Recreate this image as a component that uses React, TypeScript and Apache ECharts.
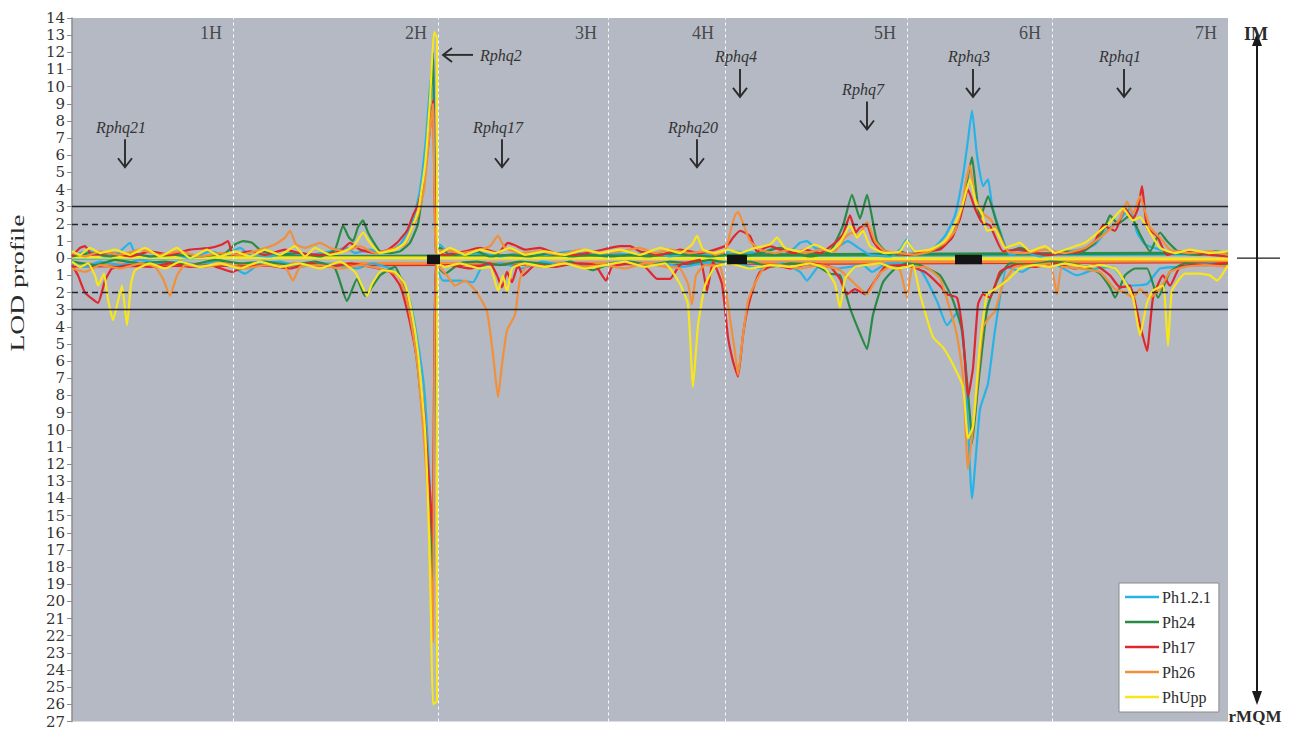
import React, { useEffect, useRef } from 'react';
import * as echarts from 'echarts';

type Pt = [number, number];

// Genome layout: cumulative map position of each chromosome end
const chromosomes = ['1H', '2H', '3H', '4H', '5H', '6H', '7H'];
const chromosomeEnds = [161, 366, 536, 653, 835, 980, 1156];

// LOD axis (upper half = IM, lower half = rMQM drawn downwards)
const lodMin = -27;
const lodMax = 14;
const thresholdSolid = [3, -3];
const thresholdDashed = [2, -2];

// Centromere blocks
const centromereStarts = [355, 655, 883];
const centromereEnds = [368, 675, 910];
const centromereTop = 0.2;
const centromereBottom = -0.35;

// QTL annotations
const qtlNames = ['Rphq21', 'Rphq2', 'Rphq17', 'Rphq20', 'Rphq4', 'Rphq7', 'Rphq3', 'Rphq1'];
const qtlPositions = [53, 371, 430, 625, 668, 795, 901, 1052];
const qtlTipLod = [5.3, 11.85, 5.3, 5.3, 9.4, 7.5, 9.4, 9.4];
const qtlPointsLeft = [0, 1, 0, 0, 0, 0, 0, 0];

const seriesNames = ['Ph1.2.1', 'Ph24', 'Ph17', 'Ph26', 'PhUpp'];
const seriesColors = ['#27b3e6', '#2a8b45', '#e2262d', '#f2903a', '#f7e61c'];

// Ph1.2.1
const ph121Im: Pt[] = [
  [0, 0.2], [18, 0.4], [33, 0.1], [46, 0.3], [58, 0.9], [63, 0.3], [78, 0.1], [98, 0.3], [118, 0.0], [138, 0.4],
  [153, 0.2], [168, 0.6], [178, 0.2], [198, 0.1], [218, 0.3], [238, 0.2], [258, 0.4], [275, 0.6], [283, 0.3], [298, 0.5],
  [313, 0.3], [328, 0.8], [340, 2.0], [348, 4.0], [354, 7.0], [358, 10.0], [361, 11.3], [364, 0.3], [368, 0.8], [373, 0.5],
  [388, 0.2], [408, 0.3], [428, 0.1], [448, 0.3], [473, 0.2], [498, 0.4], [518, 0.2], [538, 0.3], [558, 0.2], [578, 0.3],
  [598, 0.1], [618, 0.3], [638, 0.2], [658, 0.4], [688, 0.3], [703, 0.6], [718, 0.4], [728, 0.9], [735, 1.0], [743, 0.6],
  [758, 0.4], [776, 1.0], [784, 0.7], [798, 0.2], [818, 0.1], [828, 0.5], [835, 1.1], [843, 0.3], [858, 0.4], [873, 1.3],
  [883, 2.5], [891, 4.8], [896, 6.9], [900, 8.6], [905, 6.0], [911, 4.2], [916, 4.6], [920, 3.1], [928, 1.6], [938, 0.2],
  [953, 0.4], [968, 0.1], [988, 0.3], [1008, 0.5], [1023, 0.8], [1033, 1.5], [1043, 2.0], [1053, 2.6], [1058, 2.9], [1065, 1.5],
  [1073, 0.8], [1088, 0.5], [1108, 0.3], [1128, 0.2], [1156, 0.3],
];
const ph121Mqm: Pt[] = [
  [0, -0.3], [13, -0.5], [28, -0.2], [48, -0.4], [68, -0.1], [88, -0.3], [108, -0.2], [128, -0.4], [148, -0.1], [173, -0.9],
  [188, -0.3], [208, -0.2], [228, -0.5], [248, -0.3], [268, -0.4], [285, -0.6], [300, -0.3], [318, -0.6], [330, -1.2], [338, -2.5],
  [345, -4.6], [352, -7.5], [356, -11], [359, -15], [361, -18], [364, -0.5], [371, -1.3], [388, -1.3], [401, -1.4], [410, -0.5],
  [430, -0.3], [450, -0.6], [470, -0.2], [490, -0.4], [510, -0.3], [530, -0.5], [550, -0.2], [570, -0.4], [590, -0.3], [610, -0.5],
  [630, -0.3], [650, -0.2], [670, -0.4], [690, -0.6], [710, -0.3], [728, -0.8], [735, -1.3], [748, -0.4], [765, -0.6], [791, -0.4],
  [800, -0.8], [815, -0.3], [835, -0.3], [850, -0.8], [865, -2.5], [875, -3.9], [886, -3.1], [893, -6], [900, -14], [908, -8.8],
  [916, -7.3], [923, -4.2], [935, -0.5], [950, -0.8], [965, -0.3], [985, -0.4], [1005, -1.0], [1025, -0.6], [1040, -0.5], [1058, -1.6],
  [1075, -1.5], [1088, -0.6], [1105, -0.5], [1120, -0.4], [1140, -0.3], [1156, -0.4],
];

// Ph24
const ph24Im: Pt[] = [
  [0, 0.1], [18, 0.3], [38, 0.1], [58, 0.3], [78, 0.1], [103, 0.2], [128, 0.1], [153, 0.3], [163, 0.8], [171, 1.0],
  [180, 0.9], [190, 0.4], [208, 0.2], [228, 0.3], [248, 0.1], [263, 0.5], [271, 1.9], [277, 1.2], [281, 1.0], [286, 1.8],
  [291, 2.2], [296, 1.5], [301, 1.0], [308, 0.4], [318, 0.3], [328, 0.4], [338, 0.9], [346, 2.0], [353, 5.0], [358, 9.0],
  [361, 12.0], [364, 0.5], [368, 0.6], [378, 0.2], [398, 0.3], [405, 0.4], [418, 0.1], [438, 0.2], [458, 0.1], [478, 0.3],
  [498, 0.1], [518, 0.2], [538, 0.1], [558, 0.2], [578, 0.1], [598, 0.3], [618, 0.2], [638, 0.1], [653, 0.2], [668, 0.1],
  [688, 0.3], [708, 0.6], [723, 0.3], [738, 0.1], [758, 0.4], [771, 1.9], [780, 3.7], [788, 2.3], [795, 3.7], [805, 1.0],
  [818, 0.2], [828, 0.4], [838, 0.2], [853, 0.3], [868, 0.6], [880, 1.2], [891, 3.1], [896, 4.8], [900, 5.9], [904, 4.0],
  [908, 2.3], [916, 3.6], [925, 2.0], [936, 0.4], [948, 0.6], [963, 0.3], [978, 0.2], [993, 0.4], [1008, 0.3], [1023, 0.9],
  [1033, 1.8], [1038, 2.5], [1046, 2.0], [1058, 2.5], [1068, 1.4], [1078, 0.4], [1088, 1.5], [1095, 1.0], [1108, 0.3], [1128, 0.2],
  [1143, 0.4], [1156, 0.3],
];
const ph24Mqm: Pt[] = [
  [0, -0.2], [23, -0.4], [43, -0.1], [68, -0.3], [93, -0.2], [118, -0.4], [143, -0.1], [168, -0.3], [193, -0.2], [218, -0.4],
  [243, -0.2], [263, -0.6], [275, -2.5], [285, -1.2], [293, -2.2], [308, -1.0], [323, -0.5], [333, -2.0], [340, -4.0], [346, -6.5],
  [352, -10], [357, -14], [361, -19.1], [364, -0.4], [373, -0.9], [388, -0.3], [405, -0.2], [428, -0.4], [448, -0.2], [468, -0.3],
  [483, -0.4], [498, -0.2], [521, -0.7], [538, -0.3], [558, -0.2], [578, -0.4], [598, -0.2], [618, -0.3], [638, -0.1], [658, -0.3],
  [678, -0.2], [698, -0.5], [718, -0.3], [743, -0.4], [758, -0.9], [768, -1.0], [778, -2.9], [786, -4.1], [795, -5.3], [801, -3.3],
  [811, -1.4], [823, -0.6], [835, -0.3], [848, -0.4], [868, -1.0], [880, -2.3], [890, -4.2], [898, -9.2], [900, -10.8], [906, -7.5],
  [915, -3.0], [921, -1.9], [928, -1.0], [938, -0.3], [958, -0.4], [978, -0.2], [998, -0.3], [1018, -0.6], [1028, -0.9], [1038, -1.7],
  [1043, -2.3], [1053, -1.0], [1063, -0.6], [1075, -0.6], [1086, -2.3], [1098, -0.8], [1113, -0.3], [1133, -0.4], [1156, -0.3],
];

// Ph17
const ph17Im: Pt[] = [
  [0, 0.1], [8, 0.6], [13, 0.7], [20, 0.2], [38, 0.3], [58, 0.1], [78, 0.4], [98, 0.2], [118, 0.5], [138, 0.6],
  [150, 0.8], [156, 1.0], [161, 0.2], [178, 0.4], [193, 0.2], [213, 0.5], [228, 0.3], [248, 0.2], [268, 0.4], [278, 0.9],
  [288, 0.5], [303, 0.3], [316, 0.5], [325, 0.9], [335, 1.6], [341, 2.5], [346, 3.1], [352, 4.5], [357, 7.0], [361, 9.2],
  [364, 0.4], [373, 0.2], [393, 0.4], [408, 0.6], [426, 0.3], [436, 0.9], [443, 0.75], [453, 0.5], [468, 0.6], [483, 0.3],
  [503, 0.2], [523, 0.4], [538, 0.6], [548, 0.7], [558, 0.7], [568, 0.4], [588, 0.2], [608, 0.5], [628, 0.3], [643, 0.5],
  [656, 0.8], [661, 1.2], [668, 1.6], [678, 1.3], [685, 0.4], [698, 0.7], [708, 0.5], [723, 0.3], [733, 0.5], [748, 0.3],
  [763, 0.9], [771, 1.4], [778, 2.5], [784, 1.5], [788, 1.8], [795, 1.9], [801, 1.0], [808, 0.5], [823, 0.3], [838, 0.2],
  [853, 0.4], [868, 0.5], [880, 1.2], [888, 2.3], [896, 4.0], [903, 2.9], [910, 2.1], [918, 1.9], [931, 0.4], [948, 0.5],
  [963, 0.3], [978, 0.2], [993, 0.3], [1008, 0.4], [1023, 1.0], [1031, 1.9], [1043, 1.6], [1053, 2.9], [1061, 2.3], [1066, 2.9],
  [1070, 4.2], [1075, 1.8], [1085, 1.3], [1095, 0.2], [1108, 0.4], [1123, 0.3], [1138, 0.2], [1156, 0.1],
];
const ph17Mqm: Pt[] = [
  [0, -0.4], [6, -1.0], [13, -2.0], [26, -2.6], [33, -1.3], [40, -0.6], [58, -0.4], [78, -0.5], [98, -0.3], [118, -0.5],
  [138, -0.4], [160, -0.8], [173, -0.5], [193, -0.4], [218, -0.6], [238, -0.3], [258, -0.5], [278, -0.3], [298, -0.5], [318, -0.8],
  [328, -1.6], [335, -3.0], [341, -4.6], [346, -6.2], [352, -9.0], [356, -12], [359, -14.5], [361, -16.6], [364, -0.5], [378, -0.4],
  [398, -0.6], [418, -0.3], [425, -1.0], [430, -1.7], [435, -0.8], [440, -1.4], [446, -0.4], [451, -1.0], [463, -0.4], [483, -0.5],
  [503, -0.3], [523, -0.4], [534, -1.3], [540, -0.5], [558, -0.3], [573, -0.5], [585, -1.2], [598, -1.2], [608, -0.4], [628, -0.1],
  [635, -1.9], [641, -0.2], [650, -1.5], [656, -4.6], [661, -6.0], [666, -6.9], [671, -4.5], [675, -3.1], [681, -1.8], [688, -0.8],
  [703, -0.4], [718, -0.6], [738, -0.3], [758, -0.5], [768, -1.2], [775, -2.1], [783, -1.8], [793, -2.1], [803, -1.3], [813, -0.5],
  [833, -0.4], [853, -0.8], [868, -1.6], [875, -2.1], [885, -2.3], [891, -4.5], [896, -8.1], [901, -6.4], [906, -2.7], [911, -2.1],
  [918, -2.3], [928, -0.8], [943, -0.4], [963, -0.5], [983, -0.3], [1003, -0.6], [1023, -0.4], [1038, -1.0], [1048, -1.7], [1058, -1.6],
  [1068, -3.9], [1075, -5.4], [1081, -2.3], [1091, -1.0], [1098, -1.6], [1108, -0.5], [1128, -0.4], [1156, -0.3],
];

// Ph26
const ph26Im: Pt[] = [
  [0, 0.3], [13, 0.1], [28, 0.4], [48, 0.2], [68, 0.5], [88, 0.2], [108, 0.4], [128, 0.1], [148, 0.3], [168, 0.2],
  [188, 0.5], [203, 0.8], [213, 1.2], [218, 1.6], [224, 0.8], [233, 0.6], [248, 0.9], [258, 0.6], [273, 0.4], [288, 0.7],
  [303, 0.3], [318, 0.5], [333, 0.8], [340, 1.8], [346, 2.5], [352, 4.0], [357, 7.0], [361, 9.0], [364, 0.3], [373, 0.5],
  [388, 0.3], [408, 0.5], [418, 0.7], [426, 1.3], [433, 0.6], [448, 0.3], [468, 0.4], [488, 0.2], [508, 0.5], [528, 0.3],
  [548, 0.4], [568, 0.6], [583, 0.3], [598, 0.5], [618, 0.3], [633, 0.4], [643, 0.2], [653, 0.4], [659, 1.7], [663, 2.5],
  [666, 2.7], [670, 2.2], [678, 1.0], [688, 0.5], [703, 0.3], [718, 0.5], [733, 0.3], [748, 0.5], [763, 0.4], [773, 1.2],
  [780, 1.5], [786, 1.3], [795, 2.1], [803, 1.0], [813, 0.4], [828, 0.3], [843, 0.2], [858, 0.4], [873, 0.9], [883, 1.6],
  [890, 3.0], [894, 4.5], [898, 5.4], [903, 3.5], [911, 2.6], [918, 2.3], [926, 1.5], [936, 0.4], [953, 0.3], [973, 0.5],
  [993, 0.3], [1013, 0.6], [1028, 1.2], [1040, 1.8], [1048, 2.3], [1055, 3.3], [1061, 2.6], [1068, 3.6], [1078, 1.8], [1088, 1.2],
  [1098, 0.5], [1118, 0.3], [1138, 0.4], [1156, 0.2],
];
const ph26Mqm: Pt[] = [
  [0, -0.6], [13, -0.8], [28, -0.4], [48, -0.6], [68, -0.3], [83, -0.5], [91, -1.2], [98, -2.2], [105, -1.0], [113, -0.4],
  [133, -0.5], [153, -0.3], [173, -0.6], [193, -0.4], [213, -0.5], [221, -1.3], [228, -0.5], [248, -0.4], [268, -0.6], [288, -0.4],
  [308, -0.6], [326, -1.0], [333, -2.0], [340, -4.0], [346, -6.5], [352, -10.5], [356, -14], [359, -18.5], [361, -22.4], [364, -0.3],
  [375, -1.0], [383, -1.6], [393, -1.3], [405, -2.0], [415, -3.1], [421, -5.6], [426, -8.1], [430, -6.2], [435, -4.2], [443, -3.3],
  [448, -1.2], [456, -0.4], [473, -0.5], [493, -0.3], [513, -0.5], [533, -0.4], [553, -0.6], [573, -0.3], [593, -0.5], [608, -0.6],
  [616, -1.5], [620, -2.7], [624, -1.0], [633, -0.4], [648, -0.5], [654, -2.0], [658, -3.5], [663, -5.5], [666, -6.8], [671, -4.5],
  [676, -2.5], [681, -1.7], [693, -0.5], [708, -0.4], [728, -0.6], [748, -0.4], [768, -0.7], [783, -1.5], [795, -2.1], [806, -1.0],
  [818, -0.5], [828, -0.7], [835, -2.3], [840, -0.6], [853, -0.5], [868, -1.2], [878, -3.0], [885, -4.5], [891, -6.9], [896, -12.3],
  [903, -8.8], [911, -4.0], [918, -3.4], [923, -3.1], [931, -1.5], [943, -0.5], [963, -0.4], [978, -0.3], [985, -2.1], [990, -0.5],
  [1008, -0.6], [1028, -0.8], [1043, -1.8], [1053, -2.0], [1061, -2.3], [1068, -1.8], [1078, -2.3], [1088, -1.8], [1098, -0.8], [1113, -0.5],
  [1133, -0.4], [1156, -0.5],
];

// PhUpp
const phUppIm: Pt[] = [
  [0, 0.4], [8, 0.2], [18, 0.6], [28, 0.3], [43, 0.5], [58, 0.2], [73, 0.6], [88, 0.1], [105, 0.6], [118, 0.0],
  [135, 0.5], [148, 0.1], [163, 0.4], [178, 0.1], [193, 0.5], [208, 0.2], [223, 0.7], [233, 0.1], [243, 0.6], [258, 0.2],
  [273, 0.4], [283, 0.8], [291, 1.5], [298, 0.9], [308, 0.3], [323, 0.5], [333, 0.9], [340, 1.8], [346, 2.7], [353, 5.4],
  [358, 9.2], [362, 13.2], [365, 12.8], [365.5, 0.3], [368, 0.3], [378, 0.6], [393, 0.2], [408, 0.5], [423, 0.3], [438, 0.6],
  [453, 0.2], [473, 0.4], [493, 0.2], [513, 0.5], [528, 0.3], [548, 0.5], [568, 0.2], [588, 0.6], [608, 0.3], [620, 0.8],
  [625, 1.3], [631, 0.5], [643, 0.3], [656, 0.5], [668, 0.3], [683, 0.6], [698, 0.8], [705, 1.2], [713, 0.6], [728, 0.4],
  [743, 0.8], [758, 0.4], [768, 0.9], [778, 1.9], [785, 1.2], [791, 1.6], [798, 0.7], [813, 0.3], [828, 0.4], [835, 1.0],
  [843, 0.4], [858, 0.5], [873, 1.0], [883, 2.0], [890, 3.0], [898, 4.6], [904, 3.2], [910, 2.6], [915, 1.6], [923, 1.7],
  [933, 0.6], [948, 0.9], [958, 0.4], [973, 0.7], [983, 0.3], [998, 0.6], [1013, 0.9], [1028, 1.6], [1038, 2.1], [1051, 2.9],
  [1061, 2.2], [1068, 2.4], [1078, 1.5], [1088, 0.6], [1103, 0.3], [1118, 0.5], [1138, 0.3], [1156, 0.4],
];
const phUppMqm: Pt[] = [
  [0, -0.2], [8, -0.5], [16, -0.3], [23, -1.0], [26, -1.6], [32, -0.9], [36, -2.4], [41, -3.6], [46, -2.5], [50, -1.6],
  [55, -3.9], [59, -1.5], [63, -0.7], [78, -0.3], [93, -0.6], [108, -0.2], [128, -0.5], [148, -0.3], [168, -0.6], [188, -0.2],
  [208, -0.5], [228, -0.3], [248, -0.6], [268, -0.2], [283, -0.8], [290, -1.6], [295, -2.2], [300, -1.5], [310, -0.7], [323, -0.8],
  [333, -1.5], [340, -3.2], [346, -5.5], [353, -10], [357, -16], [359, -21], [361, -26], [365, -25.8], [365.5, -0.3], [373, -0.5],
  [388, -0.3], [408, -0.6], [418, -0.5], [426, -1.9], [431, -1.0], [435, -2.0], [440, -0.6], [453, -0.3], [473, -0.5], [493, -0.3],
  [513, -0.6], [533, -0.4], [553, -0.2], [573, -0.5], [593, -0.3], [608, -1.5], [616, -2.7], [621, -7.5], [626, -3.9], [633, -1.6],
  [643, -0.5], [658, -0.3], [678, -0.6], [698, -0.4], [718, -0.5], [738, -0.3], [753, -0.6], [763, -1.5], [768, -2.9], [773, -1.2],
  [783, -0.5], [793, -0.4], [808, -0.3], [823, -0.6], [835, -0.5], [841, -0.4], [848, -2.1], [861, -4.6], [871, -5.2], [881, -6.2],
  [891, -7.5], [896, -10.5], [901, -9.8], [908, -5.0], [915, -2.1], [923, -1.8], [935, -1.3], [948, -0.6], [963, -0.4], [978, -0.5],
  [993, -0.3], [1013, -0.5], [1028, -0.4], [1043, -0.6], [1051, -1.2], [1061, -2.3], [1068, -4.5], [1075, -2.6], [1081, -1.9], [1091, -1.6],
  [1096, -5.1], [1100, -1.9], [1113, -0.9], [1128, -0.9], [1138, -1.0], [1145, -1.3], [1156, -0.4],
];

const imTraces = [ph121Im, ph24Im, ph17Im, ph26Im, phUppIm];
const mqmTraces = [ph121Mqm, ph24Mqm, ph17Mqm, ph26Mqm, phUppMqm];

// Flat reference profiles along the genome
const baselineStart = [0.0, 0.05, -0.45, -0.35, 0.05];
const baselineEnd = [0.25, 0.3, -0.2, -0.15, -0.05];

const SERIF = '"Liberation Serif", "Times New Roman", serif';
const INK = '#2b2b2b';

export default function App() {
  const ref = useRef<HTMLDivElement>(null);

  useEffect(() => {
    document.body.style.margin = '0';
    const el = ref.current;
    if (!el) return;
    const chart = echarts.init(el, null, { renderer: 'svg' });

    const series: any[] = [];

    seriesNames.forEach((name, i) => {
      const genomeEnd = chromosomeEnds[chromosomeEnds.length - 1];
      series.push({
        name,
        type: 'line',
        data: [[0, baselineStart[i]], [genomeEnd, baselineEnd[i]]],
        showSymbol: false,
        lineStyle: { color: seriesColors[i], width: 3 },
        itemStyle: { color: seriesColors[i] },
        z: 2,
        silent: true,
      });
    });

    seriesNames.forEach((name, i) => {
      [imTraces[i], mqmTraces[i]].forEach((trace) => {
        series.push({
          name,
          type: 'line',
          data: trace,
          showSymbol: false,
          smooth: 0.15,
          lineStyle: { color: seriesColors[i], width: 2.2 },
          itemStyle: { color: seriesColors[i] },
          z: 3,
          silent: true,
        });
      });
    });

    // thresholds and chromosome borders
    series.push({
      name: 'guides',
      type: 'line',
      data: [],
      silent: true,
      z: 1,
      markLine: {
        silent: true,
        symbol: 'none',
        label: { show: false },
        data: [
          ...thresholdSolid.map((v) => ({ yAxis: v, lineStyle: { color: '#262626', width: 1.3, type: 'solid' } })),
          ...thresholdDashed.map((v) => ({ yAxis: v, lineStyle: { color: '#262626', width: 1.3, type: [6, 4] } })),
          ...chromosomeEnds.slice(0, -1).map((v) => ({
            xAxis: v,
            lineStyle: { color: 'rgba(255,255,255,0.95)', width: 1, type: [3, 3] },
          })),
        ],
      },
    });

    // centromere blocks, drawn over the profiles
    series.push({
      name: 'centromeres',
      type: 'line',
      data: [],
      silent: true,
      z: 6,
      markArea: {
        silent: true,
        z: 6,
        itemStyle: { color: '#141414', opacity: 1 },
        data: centromereStarts.map((s, i) => [
          { xAxis: s, yAxis: centromereTop },
          { xAxis: centromereEnds[i], yAxis: centromereBottom },
        ]),
      },
    });

    // chromosome names at the top right of each chromosome
    series.push({
      name: 'chromosomes',
      type: 'scatter',
      symbolSize: 0,
      silent: true,
      z: 7,
      data: chromosomeEnds.map((e, i) => ({ value: [e, 13.1], name: chromosomes[i] })),
      label: {
        show: true,
        position: 'left',
        distance: 11,
        formatter: (p: any) => p.name,
        fontFamily: SERIF,
        fontSize: 18,
        color: INK,
      },
    });

    // QTL arrows
    series.push({
      name: 'qtl',
      type: 'custom',
      silent: true,
      z: 8,
      data: qtlPositions.map((p, i) => [p, qtlTipLod[i], qtlPointsLeft[i]]),
      renderItem: (params: any, api: any) => {
        const i = params.dataIndex;
        const [x, y] = api.coord([api.value(0), api.value(1)]);
        const stroke = { stroke: INK, lineWidth: 1.9, fill: 'none' };
        const textStyle = {
          text: qtlNames[i],
          fontFamily: SERIF,
          fontStyle: 'italic',
          fontSize: 16,
          fill: '#333',
        };
        if (api.value(2) === 1) {
          return {
            type: 'group',
            children: [
              { type: 'line', shape: { x1: x, y1: y, x2: x + 30, y2: y }, style: stroke },
              { type: 'polyline', shape: { points: [[x + 9, y - 7], [x, y], [x + 9, y + 7]] }, style: stroke },
              {
                type: 'text',
                style: { ...textStyle, x: x + 37, y: y + 1, align: 'left', verticalAlign: 'middle' },
              },
            ],
          };
        }
        return {
          type: 'group',
          children: [
            { type: 'line', shape: { x1: x, y1: y - 28, x2: x, y2: y }, style: stroke },
            { type: 'polyline', shape: { points: [[x - 7, y - 9], [x, y], [x + 7, y - 9]] }, style: stroke },
            {
              type: 'text',
              style: { ...textStyle, x: x - 4, y: y - 40, align: 'center', verticalAlign: 'middle' },
            },
          ],
        };
      },
    });

    chart.setOption({
      animation: false,
      grid: {
        left: 72,
        right: 61,
        top: 18,
        bottom: 2,
        show: true,
        backgroundColor: '#b4b9c3',
        borderWidth: 0,
      },
      legend: {
        data: seriesNames,
        orient: 'vertical',
        left: 1119,
        top: 583,
        width: 108,
        padding: [6, 8, 7, 6],
        itemGap: 9,
        itemWidth: 34,
        itemHeight: 2.5,
        icon: 'rect',
        backgroundColor: '#ffffff',
        borderColor: '#8a8a8a',
        borderWidth: 1,
        borderRadius: 0,
        selectedMode: false,
        textStyle: { fontFamily: SERIF, fontSize: 16, color: INK, lineHeight: 16, padding: [0, 0, 0, -2] },
      },
      xAxis: {
        type: 'value',
        min: 0,
        max: chromosomeEnds[chromosomeEnds.length - 1],
        show: false,
      },
      yAxis: {
        type: 'value',
        min: lodMin,
        max: lodMax,
        interval: 1,
        axisLine: { show: true, lineStyle: { color: '#8c8c8c', width: 1.5 } },
        axisTick: { show: true, length: 5, lineStyle: { color: '#8c8c8c' } },
        splitLine: { show: false },
        axisLabel: {
          fontFamily: '"DejaVu Serif", serif',
          fontSize: 15,
          color: '#333',
          margin: 7,
          formatter: (v: number) => String(Math.abs(v)),
        },
      },
      series,
    });

    const y0 = chart.convertToPixel({ gridIndex: 0 }, [0, 0])[1];
    chart.setOption({
      graphic: [
        {
          type: 'text',
          x: 18,
          y: 283,
          rotation: Math.PI / 2,
          scaleX: 1.45,
          style: {
            text: 'LOD profile',
            fontFamily: SERIF,
            fontSize: 19,
            fill: INK,
            align: 'center',
            verticalAlign: 'middle',
          },
        },
        { type: 'line', shape: { x1: 1257, y1: 44, x2: 1257, y2: 694 }, style: { stroke: '#1a1a1a', lineWidth: 2 } },
        { type: 'polygon', shape: { points: [[1257, 33], [1252, 46], [1262, 46]] }, style: { fill: '#1a1a1a' } },
        { type: 'polygon', shape: { points: [[1257, 705], [1252, 691], [1262, 691]] }, style: { fill: '#1a1a1a' } },
        { type: 'line', shape: { x1: 1237, y1: y0, x2: 1280, y2: y0 }, style: { stroke: '#1a1a1a', lineWidth: 1.3 } },
        {
          type: 'text',
          x: 1256,
          y: 34,
          style: { text: 'IM', fontFamily: SERIF, fontWeight: 'bold', fontSize: 18, fill: INK, align: 'center', verticalAlign: 'middle' },
        },
        {
          type: 'text',
          x: 1255,
          y: 716,
          style: { text: 'rMQM', fontFamily: SERIF, fontWeight: 'bold', fontSize: 17, fill: INK, align: 'center', verticalAlign: 'middle' },
        },
      ],
    });

    return () => {
      chart.dispose();
    };
  }, []);

  return <div ref={ref} style={{ width: 1289, height: 729 }} />;
}
